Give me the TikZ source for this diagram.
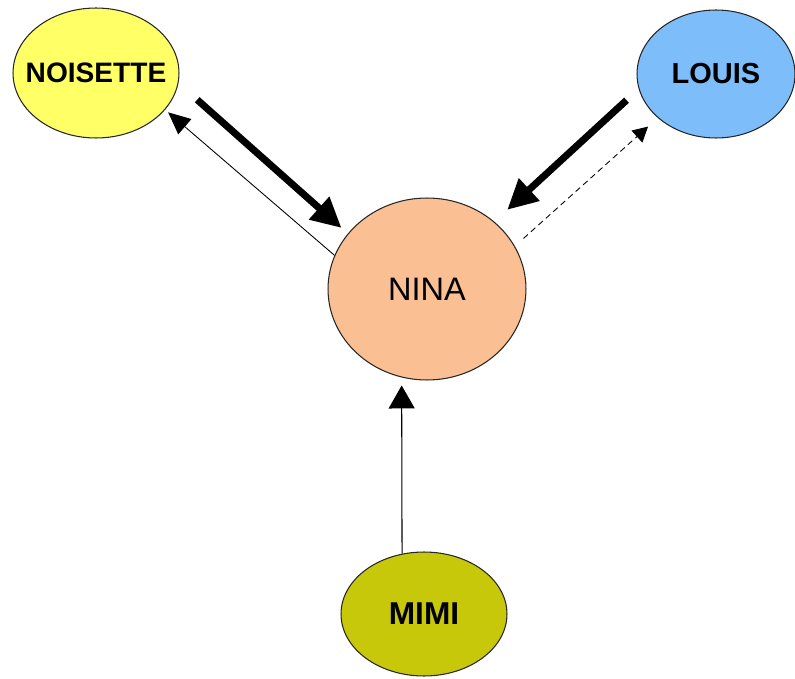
\documentclass[tikz,border=0pt]{standalone}
\usepackage{fontspec}
\setmainfont{Liberation Sans}
\usetikzlibrary{shapes.geometric,arrows.meta}

\definecolor{noisettefill}{RGB}{255,255,102}
\definecolor{louisfill}{RGB}{125,190,250}
\definecolor{ninafill}{RGB}{250,192,148}
\definecolor{mimifill}{RGB}{200,200,10}

\begin{document}
\begin{tikzpicture}[
    x=0.02cm,
    y=-0.02cm,
    person/.style={ellipse, draw=black!85, line width=0.6pt, inner sep=0pt},
    strong/.style={line width=4pt, -{Triangle[length=0.6cm, width=0.58cm]}},
    weak/.style={line width=0.5pt, -{Triangle[length=0.44cm, width=0.4cm]}}
]

% Frame
\useasboundingbox (0,0) rectangle (795,679);

% Persons
\node[person, fill=noisettefill, minimum width=3.32cm, minimum height=2.6cm,
    inner xsep=-0.3cm,
    font=\bfseries\fontsize{16}{19}\selectfont] (noisette) at (96,73) {NOISETTE};
\node[person, fill=louisfill, minimum width=3.16cm, minimum height=2.56cm,
    font=\bfseries\fontsize{16.5}{19}\selectfont] (louis) at (716,74) {LOUIS};
\node[person, fill=ninafill, minimum width=3.96cm, minimum height=3.64cm,
    font=\fontsize{18.5}{22}\selectfont] (nina) at (427,289) {NINA};
\node[person, fill=mimifill, minimum width=3.32cm, minimum height=2.48cm,
    font=\bfseries\fontsize{18}{22}\selectfont] (mimi) at (424,614) {MIMI};

% Arrows
\draw[strong, shorten <=0.5cm, shorten >=0.17cm] (noisette.-7) -- (nina.145);
\draw[weak, shorten >=0.08cm] (nina.160) -- (noisette.-28);
\draw[strong, shorten <=0.33cm, shorten >=0.35cm] (louis.191) -- (nina.45);
\draw[line width=0.5pt, dash pattern=on 3.4pt off 2.3pt,
    -{Triangle[length=0.3cm, width=0.32cm]},
    shorten <=0.23cm, shorten >=0.26cm] (nina.26) -- (louis.217);
\draw[line width=0.6pt, -{Triangle[length=0.46cm, width=0.52cm]},
    shorten >=0.16cm] (mimi.110) -- (nina.254);

\end{tikzpicture}
\end{document}
